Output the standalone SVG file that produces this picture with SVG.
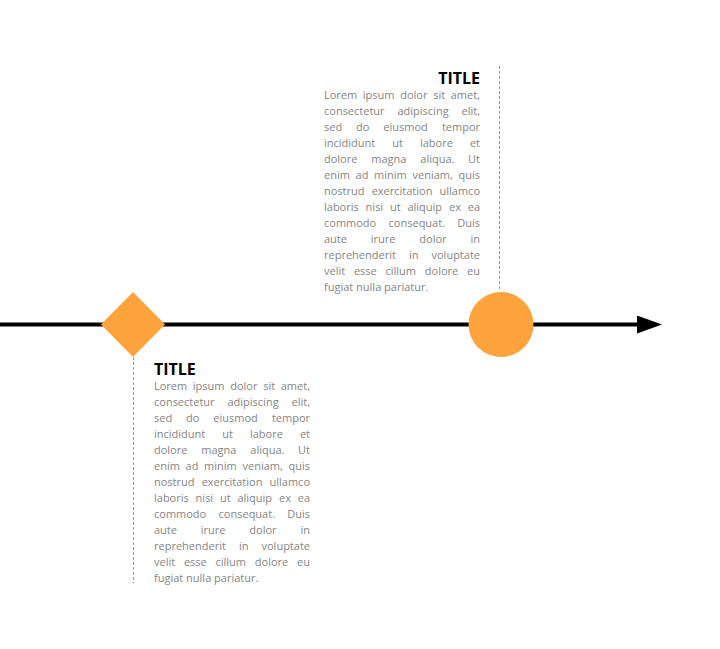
<svg xmlns="http://www.w3.org/2000/svg" width="720" height="649" viewBox="0 0 720 649">
<style>
.title{font-family:"Open Sans","Liberation Sans",sans-serif;font-weight:bold;font-size:16px;fill:#000}
.body{font-family:"Open Sans","Liberation Sans",sans-serif;font-size:11px;fill:#858585}
.guide{stroke:#9a9a9a;stroke-width:1;stroke-dasharray:3 2;fill:none}
.shape{fill:#FFA43C}
.e{text-anchor:end}
</style>
<defs>
<marker id="arrow" markerUnits="userSpaceOnUse" markerWidth="26" markerHeight="18" refX="0" refY="9" orient="auto" viewBox="0 0 26 18">
<path d="M0,0 L25,9 L0,18 Z" fill="#000"/>
</marker>
</defs>
<rect width="720" height="649" fill="#fff"/>
<g id="connectors">
<line x1="0" y1="324.5" x2="637" y2="324.5" stroke="#000" stroke-width="4" marker-end="url(#arrow)"/>
<line class="guide" x1="499.5" y1="66" x2="499.5" y2="291"/>
<line class="guide" x1="133.5" y1="357" x2="133.5" y2="583"/>
</g>
<g id="node-diamond">
<polygon class="shape" points="133,292 165,324.5 133,357 101,324.5"/>
</g>
<g id="node-circle">
<circle class="shape" cx="501" cy="324.5" r="32.5"/>
</g>
<g id="text-top" transform="translate(324,99)">
<text class="title e" x="156" y="-15.5">TITLE</text>
<g class="body">
<text y="0"><tspan x="0">Lorem </tspan><tspan x="38.76">ipsum </tspan><tspan x="76.24">dolor </tspan><tspan x="109.27">sit </tspan><tspan x="156" class="e">amet,</tspan></text>
<text y="16"><tspan x="0">consectetur </tspan><tspan x="73.48">adipiscing </tspan><tspan x="156" class="e">elit,</tspan></text>
<text y="32"><tspan x="0">sed </tspan><tspan x="32.07">do </tspan><tspan x="59.36">eiusmod </tspan><tspan x="156" class="e">tempor</tspan></text>
<text y="48"><tspan x="0">incididunt </tspan><tspan x="68.26">ut </tspan><tspan x="95.94">labore </tspan><tspan x="156" class="e">et</tspan></text>
<text y="64"><tspan x="0">dolore </tspan><tspan x="47.25">magna </tspan><tspan x="96.27">aliqua. </tspan><tspan x="156" class="e">Ut</tspan></text>
<text y="80"><tspan x="0">enim </tspan><tspan x="31.6">ad </tspan><tspan x="50.12">minim </tspan><tspan x="88.56">veniam, </tspan><tspan x="156" class="e">quis</tspan></text>
<text y="96"><tspan x="0">nostrud </tspan><tspan x="47.64">exercitation </tspan><tspan x="156" class="e">ullamco</tspan></text>
<text y="112"><tspan x="0">laboris </tspan><tspan x="41.62">nisi </tspan><tspan x="66">ut </tspan><tspan x="83.45">aliquip </tspan><tspan x="124.96">ex </tspan><tspan x="156" class="e">ea</tspan></text>
<text y="128"><tspan x="0">commodo </tspan><tspan x="64.59">consequat. </tspan><tspan x="156" class="e">Duis</tspan></text>
<text y="144"><tspan x="0">aute </tspan><tspan x="46.78">irure </tspan><tspan x="95.31">dolor </tspan><tspan x="156" class="e">in</tspan></text>
<text y="160"><tspan x="0">reprehenderit </tspan><tspan x="84.89">in </tspan><tspan x="156" class="e">voluptate</tspan></text>
<text y="176"><tspan x="0">velit </tspan><tspan x="29.9">esse </tspan><tspan x="61.5">cillum </tspan><tspan x="100.84">dolore </tspan><tspan x="156" class="e">eu</tspan></text>
<text y="192" x="0">fugiat nulla pariatur.</text>
</g>
</g>
<g id="text-bottom" transform="translate(154,390)">
<text class="title" x="0" y="-15.5">TITLE</text>
<g class="body">
<text y="0"><tspan x="0">Lorem </tspan><tspan x="38.76">ipsum </tspan><tspan x="76.24">dolor </tspan><tspan x="109.27">sit </tspan><tspan x="156" class="e">amet,</tspan></text>
<text y="16"><tspan x="0">consectetur </tspan><tspan x="73.48">adipiscing </tspan><tspan x="156" class="e">elit,</tspan></text>
<text y="32"><tspan x="0">sed </tspan><tspan x="32.07">do </tspan><tspan x="59.36">eiusmod </tspan><tspan x="156" class="e">tempor</tspan></text>
<text y="48"><tspan x="0">incididunt </tspan><tspan x="68.26">ut </tspan><tspan x="95.94">labore </tspan><tspan x="156" class="e">et</tspan></text>
<text y="64"><tspan x="0">dolore </tspan><tspan x="47.25">magna </tspan><tspan x="96.27">aliqua. </tspan><tspan x="156" class="e">Ut</tspan></text>
<text y="80"><tspan x="0">enim </tspan><tspan x="31.6">ad </tspan><tspan x="50.12">minim </tspan><tspan x="88.56">veniam, </tspan><tspan x="156" class="e">quis</tspan></text>
<text y="96"><tspan x="0">nostrud </tspan><tspan x="47.64">exercitation </tspan><tspan x="156" class="e">ullamco</tspan></text>
<text y="112"><tspan x="0">laboris </tspan><tspan x="41.62">nisi </tspan><tspan x="66">ut </tspan><tspan x="83.45">aliquip </tspan><tspan x="124.96">ex </tspan><tspan x="156" class="e">ea</tspan></text>
<text y="128"><tspan x="0">commodo </tspan><tspan x="64.59">consequat. </tspan><tspan x="156" class="e">Duis</tspan></text>
<text y="144"><tspan x="0">aute </tspan><tspan x="46.78">irure </tspan><tspan x="95.31">dolor </tspan><tspan x="156" class="e">in</tspan></text>
<text y="160"><tspan x="0">reprehenderit </tspan><tspan x="84.89">in </tspan><tspan x="156" class="e">voluptate</tspan></text>
<text y="176"><tspan x="0">velit </tspan><tspan x="29.9">esse </tspan><tspan x="61.5">cillum </tspan><tspan x="100.84">dolore </tspan><tspan x="156" class="e">eu</tspan></text>
<text y="192" x="0">fugiat nulla pariatur.</text>
</g>
</g>
</svg>
